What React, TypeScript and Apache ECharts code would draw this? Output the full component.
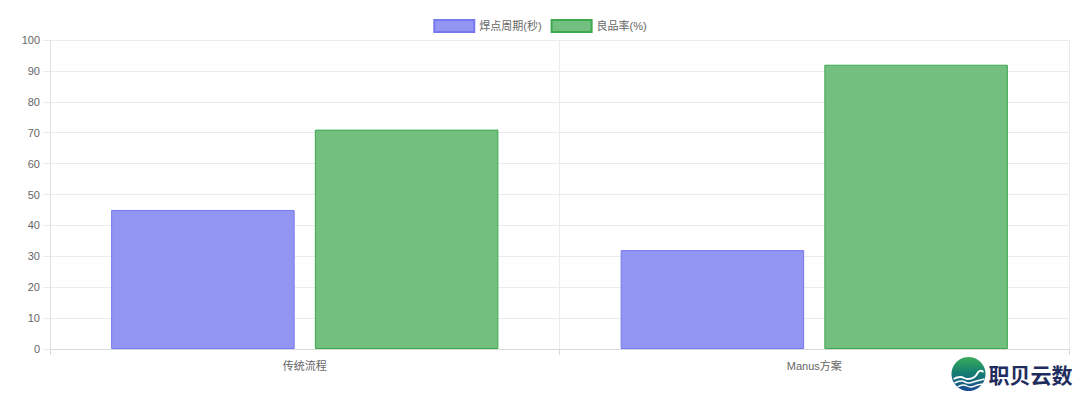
import React, { useEffect, useRef } from "react";
import * as echarts from "echarts";

const categories = ["传统流程", "Manus方案"];
const seriesNames = ["焊点周期(秒)", "良品率(%)"];
const cycleSeconds = [45, 32];
const yieldRate = [71, 92];
const yMin = 0;
const yMax = 100;
const yInterval = 10;

const FONT = "'Liberation Sans', Arial, 'Noto Sans CJK SC', sans-serif";

export default function App() {
  const ref = useRef<HTMLDivElement>(null);
  useEffect(() => {
    if (!ref.current) return;
    const chart = echarts.init(ref.current, undefined, { renderer: "svg" });
    const gridColor = "#ebebeb";
    chart.setOption({
      animation: false,
      textStyle: { fontFamily: FONT },
      legend: {
        top: 14,
        left: "center",
        icon: "rect",
        itemWidth: 40,
        itemHeight: 12,
        itemGap: 9,
        textStyle: { color: "#666666", fontSize: 11, fontFamily: FONT },
        data: seriesNames,
      },
      grid: { left: 50, right: 11, top: 40, bottom: 51, containLabel: false },
      xAxis: {
        type: "category",
        data: categories,
        boundaryGap: true,
        axisLine: { show: true, lineStyle: { color: "#d9d9d9" } },
        axisTick: { show: true, length: 6, alignWithLabel: false, lineStyle: { color: "#d9d9d9" } },
        axisLabel: { color: "#666666", fontSize: 11, margin: 11, fontFamily: FONT },
        splitLine: { show: true, lineStyle: { color: gridColor } },
      },
      yAxis: {
        type: "value",
        min: yMin,
        max: yMax,
        interval: yInterval,
        axisLine: { show: true, lineStyle: { color: "#e2e2e2" } },
        axisTick: { show: true, length: 7, lineStyle: { color: gridColor } },
        axisLabel: { color: "#666666", fontSize: 11, margin: 10, fontFamily: FONT },
        splitLine: { show: true, lineStyle: { color: gridColor } },
      },
      series: [
        {
          name: seriesNames[0],
          type: "bar",
          data: cycleSeconds,
          barCategoryGap: "24%",
          barGap: "11%",
          itemStyle: { color: "#9395f3", borderColor: "#7678ef", borderWidth: 1 },
        },
        {
          name: seriesNames[1],
          type: "bar",
          data: yieldRate,
          barCategoryGap: "24%",
          barGap: "11%",
          itemStyle: { color: "#72bf80", borderColor: "#3ea84f", borderWidth: 1 },
        },
      ],
      graphic: [
        {
          type: "group",
          left: 951,
          top: 357,
          children: [
            {
              type: "circle",
              shape: { cx: 17, cy: 17, r: 17 },
              style: {
                fill: new echarts.graphic.LinearGradient(0, 0, 0, 1, [
                  { offset: 0, color: "#3bab5c" },
                  { offset: 0.45, color: "#16806f" },
                  { offset: 1, color: "#1a4b93" },
                ]),
              },
            },
            {
              type: "polyline",
              shape: { points: [[2, 22], [9, 20], [16, 22], [23, 20], [28, 14], [32, 15]], smooth: 0.5 },
              style: { stroke: "#fff", lineWidth: 2, fill: "none" },
            },
            {
              type: "polyline",
              shape: { points: [[3, 26], [10, 24], [17, 26], [25, 24], [33, 22]], smooth: 0.5 },
              style: { stroke: "#fff", lineWidth: 1.6, fill: "none" },
            },
            {
              type: "polyline",
              shape: { points: [[6, 30], [12, 28], [19, 30], [26, 28], [31, 27]], smooth: 0.5 },
              style: { stroke: "#fff", lineWidth: 1.4, fill: "none" },
            },
            {
              type: "text",
              x: 37,
              y: 17,
              style: {
                text: "职贝云数",
                fontSize: 21,
                fontWeight: "bold",
                fill: "#1f2d5e",
                fontFamily: "'Noto Sans CJK SC', sans-serif",
                verticalAlign: "middle",
                align: "left",
              },
            },
          ],
        },
      ],
    });
    return () => chart.dispose();
  }, []);
  return (
    <div
      ref={ref}
      style={{ position: "fixed", left: 0, top: 0, width: 1080, height: 400, background: "#fff" }}
    />
  );
}
